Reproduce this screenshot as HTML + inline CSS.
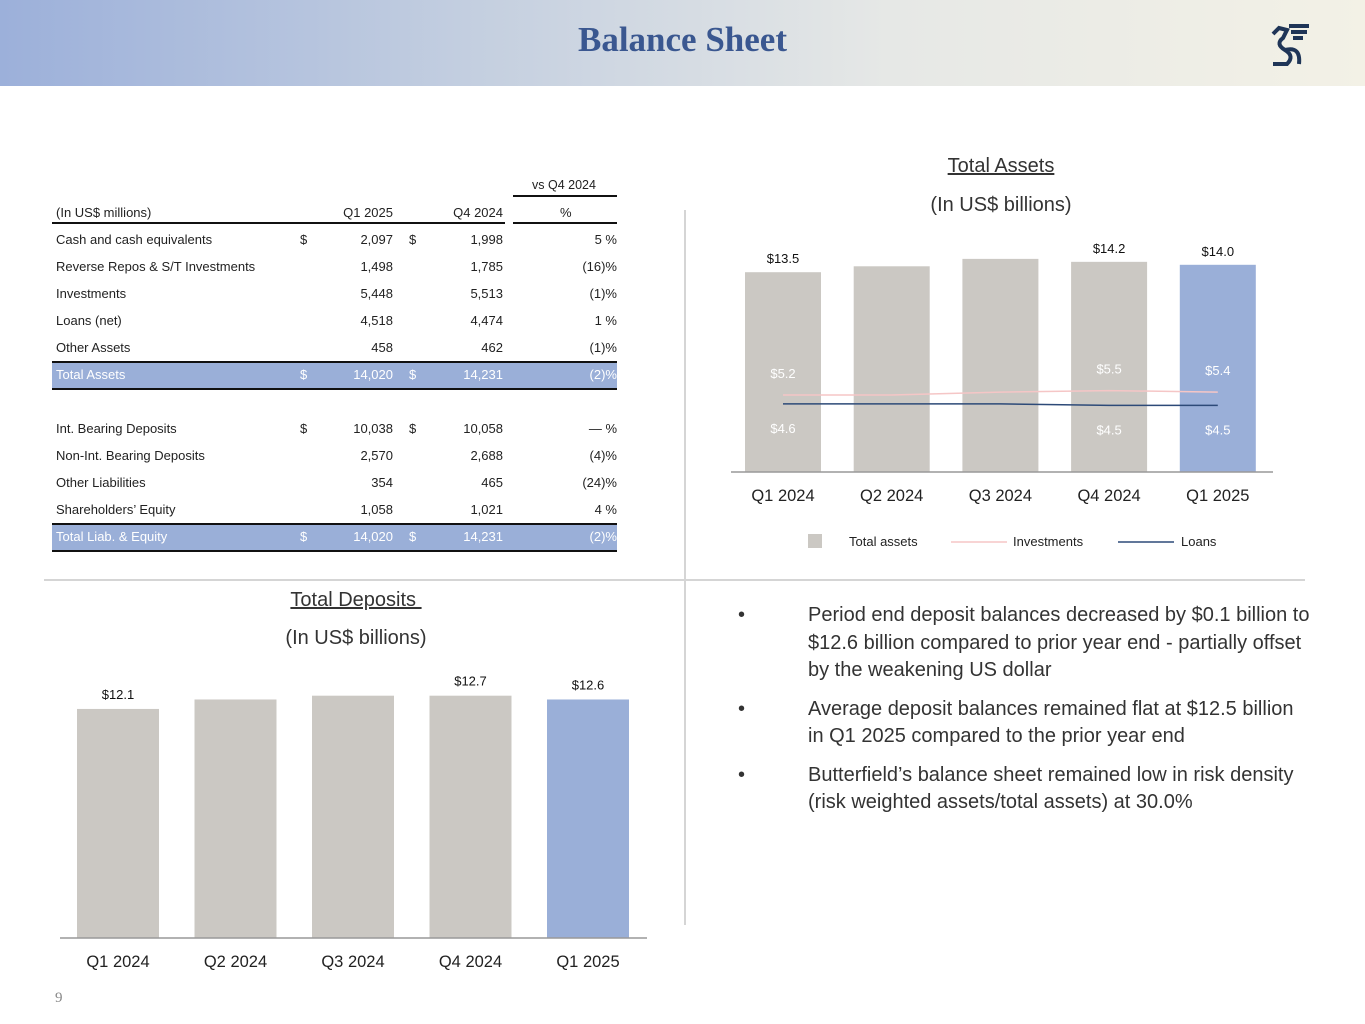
<!DOCTYPE html>
<html><head><meta charset="utf-8">
<style>
body{margin:0;width:1365px;height:1024px;position:relative;background:#fff;font-family:"Liberation Sans",sans-serif;overflow:hidden}
.a{position:absolute;white-space:nowrap}
.t{font-size:13px;color:#222}
.r{text-align:right}
svg text{font-family:"Liberation Sans",sans-serif}
</style></head><body>
<div class="a" style="left:0;top:0;width:1365px;height:86px;background:linear-gradient(90deg,#9cb0da 0%,#c4cfe0 35%,#e6e8e6 65%,#f3f1e6 100%)"></div>
<div class="a" style="left:0;width:1365px;top:20px;text-align:center;font-family:'Liberation Serif',serif;font-weight:bold;font-size:35px;color:#3a5790">Balance Sheet</div>
<svg class="a" style="left:1265px;top:20px" width="50" height="48" viewBox="0 0 50 48"><path d="M8 14 L14 8 L22 10 L18 18 Q10 24 20 30 Q30 36 22 44 L8 44 M24 6 L44 6 M26 12 L42 12 M28 18 L38 18 M20 30 Q36 26 34 44" fill="none" stroke="#1f3557" stroke-width="4"/></svg>

<div class="a" style="left:44px;top:579px;width:1261px;height:2px;background:#d5d5d5"></div>
<div class="a" style="left:684px;top:210px;width:2px;height:715px;background:#d5d5d5"></div>

<div id="tbl"></div>

<div class="a" style="left:685px;width:632px;top:155px;text-align:center;font-size:20px;text-decoration:underline;color:#333">Total Assets</div>
<div class="a" style="left:685px;width:632px;top:194px;text-align:center;font-size:20px;color:#333">(In US$ billions)</div>
<svg id="c1" class="a" style="left:0;top:0" width="1365" height="560"></svg>

<div class="a" style="left:44px;width:624px;top:589px;text-align:center;font-size:20px;text-decoration:underline;color:#333">Total Deposits&nbsp;</div>
<div class="a" style="left:44px;width:624px;top:627px;text-align:center;font-size:20px;color:#333">(In US$ billions)</div>
<svg id="c2" class="a" style="left:0;top:600px" width="680" height="400"></svg>

<div class="a" style="left:738px;top:602px;width:620px;font-size:20px;line-height:27.5px;color:#333">
<div style="position:relative;padding-left:70px;margin-bottom:11px"><span style="position:absolute;left:0">•</span>Period end deposit balances decreased by $0.1 billion to<br>$12.6 billion compared to prior year end - partially offset<br>by the weakening US dollar</div>
<div style="position:relative;padding-left:70px;margin-bottom:11px"><span style="position:absolute;left:0">•</span>Average deposit balances remained flat at $12.5 billion<br>in Q1 2025 compared to the prior year end</div>
<div style="position:relative;padding-left:70px"><span style="position:absolute;left:0">•</span>Butterfield’s balance sheet remained low in risk density<br>(risk weighted assets/total assets) at 30.0%</div>
</div>
<div class="a" style="left:55px;top:990px;font-family:'Liberation Serif',serif;font-size:15px;color:#888">9</div>

<script>
const rowLabels=["Cash and cash equivalents","Reverse Repos & S/T Investments","Investments","Loans (net)","Other Assets","Total Assets","","Int. Bearing Deposits","Non-Int. Bearing Deposits","Other Liabilities","Shareholders’ Equity","Total Liab. & Equity"];
const colQ1=["2,097","1,498","5,448","4,518","458","14,020","","10,038","2,570","354","1,058","14,020"];
const colQ4=["1,998","1,785","5,513","4,474","462","14,231","","10,058","2,688","465","1,021","14,231"];
const colPct=["5 %","(16)%","(1)%","1 %","(1)%","(2)%","","— %","(4)%","(24)%","4 %","(2)%"];
const dollarRows=[0,5,7,11];
const totalRows=[5,11];
(function(){
 const t=document.getElementById('tbl');
 let h='';
 h+='<div class="a t" style="left:532px;top:178px;font-size:12.5px">vs Q4 2024</div>';
 h+='<div class="a" style="left:513px;top:195px;width:104px;height:2px;background:#111"></div>';
 h+='<div class="a t" style="left:56px;top:205px">(In US$ millions)</div>';
 h+='<div class="a t r" style="left:293px;width:100px;top:205px">Q1 2025</div>';
 h+='<div class="a t r" style="left:403px;width:100px;top:205px">Q4 2024</div>';
 h+='<div class="a t" style="left:560px;top:205px">%</div>';
 h+='<div class="a" style="left:52px;top:222px;width:453px;height:2px;background:#111"></div>';
 h+='<div class="a" style="left:513px;top:222px;width:104px;height:2px;background:#111"></div>';
 rowLabels.forEach((l,i)=>{
  if(!l)return;
  const y=232+i*27;
  const tot=totalRows.includes(i);
  const c=tot?'color:#fff;':'';
  if(tot)h+='<div class="a" style="left:52px;top:'+(y-6)+'px;width:565px;height:25px;background:#9aafd8;border-top:2px solid #111;border-bottom:2px solid #111"></div>';
  h+='<div class="a t" style="'+c+'left:56px;top:'+y+'px">'+l+'</div>';
  if(dollarRows.includes(i)){h+='<div class="a t" style="'+c+'left:300px;top:'+y+'px">$</div><div class="a t" style="'+c+'left:409px;top:'+y+'px">$</div>';}
  h+='<div class="a t r" style="'+c+'left:293px;width:100px;top:'+y+'px">'+colQ1[i]+'</div>';
  h+='<div class="a t r" style="'+c+'left:403px;width:100px;top:'+y+'px">'+colQ4[i]+'</div>';
  h+='<div class="a t r" style="'+c+'left:517px;width:100px;top:'+y+'px">'+colPct[i]+'</div>';
 });
 t.innerHTML=h;
})();

const NS='http://www.w3.org/2000/svg';
function el(svg,tag,attrs,txt){const e=document.createElementNS(NS,tag);for(const k in attrs)e.setAttribute(k,attrs[k]);if(txt!==undefined)e.textContent=txt;svg.appendChild(e);return e;}

// Total assets chart
const quarters=["Q1 2024","Q2 2024","Q3 2024","Q4 2024","Q1 2025"];
const totalAssets=[13.5,13.9,14.4,14.2,14.0];
const investments=[5.2,5.2,5.4,5.5,5.4];
const loans=[4.6,4.6,4.6,4.5,4.5];
const assetLabels=["$13.5","","","$14.2","$14.0"];
const invLabels=["$5.2","","","$5.5","$5.4"];
const loanLabels=["$4.6","","","$4.5","$4.5"];
// Deposits chart
const depQuarters=["Q1 2024","Q2 2024","Q3 2024","Q4 2024","Q1 2025"];
const deposits=[12.1,12.6,12.8,12.8,12.6];
const depLabels=["$12.1","","","$12.7","$12.6"];

(function(){
 const s=document.getElementById('c1');
 const base=472, k=14.8, x0=783, step=108.7;
 const X=i=>x0+i*step, Y=v=>base-v*k;
 totalAssets.forEach((v,i)=>{
  const r=el(s,'rect',{x:X(i)-38,y:Y(v),width:76,height:v*k,fill:i===4?'#9aafd8':'#cbc8c3'});
  
  
  if(assetLabels[i])el(s,'text',{x:X(i),y:Y(v)-9,'text-anchor':'middle','font-size':13,fill:'#111'},assetLabels[i]);
  el(s,'text',{x:X(i),y:base+29,'text-anchor':'middle','font-size':16.5,fill:'#222'},quarters[i]);
  if(invLabels[i])el(s,'text',{x:X(i),y:Y(investments[i])-17,'text-anchor':'middle','font-size':13,fill:'#fff'},invLabels[i]);
  if(loanLabels[i])el(s,'text',{x:X(i),y:Y(loans[i])+29,'text-anchor':'middle','font-size':13,fill:'#fff'},loanLabels[i]);
 });
 el(s,'line',{x1:731,x2:1273,y1:base,y2:base,stroke:'#999','stroke-width':1.5});
 const inv=el(s,'polyline',{points:investments.map((v,i)=>X(i)+','+Y(v)).join(' '),fill:'none',stroke:'#f5c6c6','stroke-width':1.5});
 
 
 const ln=el(s,'polyline',{points:loans.map((v,i)=>X(i)+','+Y(v)).join(' '),fill:'none',stroke:'#2d4a78','stroke-width':1.5});
 
 
 const lg=el(s,'g',{});
 
 
 el(lg,'rect',{x:808,y:534,width:14,height:14,fill:'#cbc8c3'});
 el(lg,'text',{x:849,y:546,'font-size':13,fill:'#222'},'Total assets');
 el(lg,'line',{x1:951,x2:1007,y1:542,y2:542,stroke:'#f5c6c6','stroke-width':1.5});
 el(lg,'text',{x:1013,y:546,'font-size':13,fill:'#222'},'Investments');
 el(lg,'line',{x1:1118,x2:1174,y1:542,y2:542,stroke:'#2d4a78','stroke-width':1.5});
 el(lg,'text',{x:1181,y:546,'font-size':13,fill:'#222'},'Loans');
})();

(function(){
 const s=document.getElementById('c2');
 const base=338, k=18.93, x0=118, step=117.5;
 const X=i=>x0+i*step, Y=v=>base-v*k;
 deposits.forEach((v,i)=>{
  const r=el(s,'rect',{x:X(i)-41,y:Y(v),width:82,height:v*k,fill:i===4?'#9aafd8':'#cbc8c3'});
  
  
  if(depLabels[i])el(s,'text',{x:X(i),y:Y(v)-10,'text-anchor':'middle','font-size':13,fill:'#111'},depLabels[i]);
  el(s,'text',{x:X(i),y:base+29,'text-anchor':'middle','font-size':16.5,fill:'#222'},depQuarters[i]);
 });
 el(s,'line',{x1:60,x2:647,y1:base,y2:base,stroke:'#999','stroke-width':1.5});
})();
</script>
</body></html>
